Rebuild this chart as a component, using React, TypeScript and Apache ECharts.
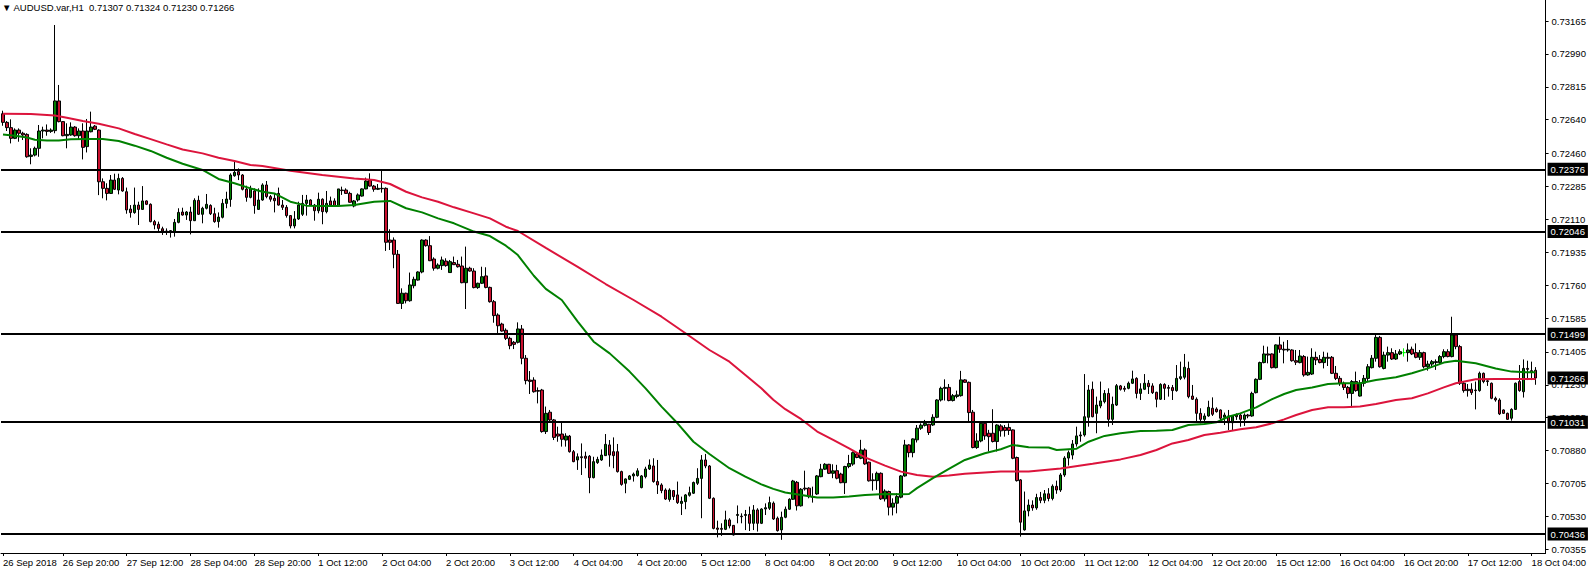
import React, { useEffect, useRef } from "react";
import * as echarts from "echarts";

const symbolName = "AUDUSD.var,H1";
const firstBarTime = "2018-09-26T05:00:00Z";

// H1 bars, [open, high, low, close] in units of 0.00001
const bars: number[][] = [
  [72672,72688,72608,72626],[72626,72633,72580,72598],[72598,72642,72514,72541],[72541,72594,72537,72585],
  [72585,72594,72523,72568],[72568,72576,72532,72559],[72562,72568,72438,72443],[72445,72488,72403,72452],
  [72452,72497,72445,72488],[72488,72612,72443,72580],[72580,72603,72541,72585],[72585,72615,72555,72578],
  [72578,72594,72570,72585],[72582,73144,72568,72740],[72740,72825,72626,72630],[72630,72633,72552,72555],
  [72555,72621,72488,72562],[72559,72626,72555,72601],[72601,72606,72550,72555],[72555,72594,72537,72580],
  [72580,72621,72429,72493],[72497,72644,72466,72580],[72576,72683,72573,72601],[72606,72612,72585,72589],
  [72585,72589,72239,72310],[72310,72328,72222,72275],[72275,72302,72211,72248],[72248,72346,72245,72319],
  [72319,72353,72266,72270],[72266,72353,72243,72328],[72328,72335,72257,72261],[72257,72279,72140,72160],
  [72165,72186,72119,72146],[72146,72279,72140,72186],[72186,72204,72080,72163],[72163,72287,72160,72208],
  [72208,72211,72186,72190],[72190,72195,72094,72098],[72098,72107,72057,72080],[72084,72098,72048,72062],
  [72060,72071,72027,72048],[72048,72062,72027,72044],[72044,72053,72013,72050],[72044,72112,72018,72094],
  [72094,72169,72089,72147],[72149,72172,72130,72133],[72133,72154,72107,72149],[72149,72177,72030,72103],
  [72103,72222,72101,72211],[72211,72236,72133,72137],[72137,72177,72089,72169],[72169,72245,72163,72190],
  [72184,72190,72133,72140],[72140,72172,72092,72098],[72098,72147,72066,72122],[72121,72218,72115,72195],
  [72195,72257,72169,72218],[72216,72355,72177,72346],[72342,72417,72337,72360],[72364,72381,72319,72346],
  [72346,72351,72264,72270],[72271,72289,72204,72227],[72227,72289,72222,72275],[72261,72275,72140,72183],
  [72163,72275,72160,72213],[72213,72302,72209,72293],[72293,72314,72222,72231],[72231,72240,72204,72217],
  [72222,72248,72147,72209],[72248,72279,72183,72186],[72186,72213,72160,72174],[72174,72186,72119,72130],
  [72130,72133,72062,72075],[72075,72154,72062,72112],[72112,72204,72107,72186],[72137,72240,72128,72195],
  [72195,72240,72130,72213],[72213,72217,72183,72186],[72186,72192,72103,72156],[72156,72252,72142,72217],
  [72217,72222,72084,72151],[72151,72261,72142,72195],[72208,72231,72181,72186],[72208,72222,72178,72181],
  [72181,72272,72178,72272],[72266,72284,72240,72263],[72266,72275,72245,72248],[72248,72257,72199,72201],
  [72181,72213,72174,72208],[72213,72248,72204,72240],[72234,72275,72231,72272],[72272,72332,72270,72314],
  [72319,72355,72284,72287],[72287,72293,72257,72270],[72270,72298,72266,72275],[72275,72369,72252,72273],
  [72275,72280,71942,71988],[72000,72057,71947,71988],[72000,72014,71850,71924],[71924,71947,71660,71663],
  [71663,71743,71633,71717],[71717,71720,71663,71677],[71677,71827,71672,71761],[71757,71805,71743,71791],
  [71787,71834,71784,71830],[71830,72004,71823,72000],[72000,72004,71965,71970],[71970,72021,71888,71890],
  [71899,71908,71837,71850],[71850,71876,71844,71867],[71864,71912,71841,71894],[71888,71903,71858,71864],
  [71827,71894,71827,71885],[71880,71912,71867,71869],[71871,71894,71853,71858],[71862,71912,71770,71773],
  [71773,71965,71633,71850],[71850,71858,71832,71835],[71835,71850,71743,71747],[71747,71773,71740,71770],
  [71770,71858,71766,71805],[71809,71855,71743,71748],[71748,71752,71667,71672],[71672,71681,71560,71598],
  [71601,71610,71504,71544],[71553,71560,71513,71516],[71520,71530,71468,71477],[71477,71486,71419,71438],
  [71456,71463,71420,71445],[71456,71562,71450,71527],[71527,71548,71339,71371],[71371,71388,71232,71252],
  [71255,71303,71181,71248],[71255,71270,71188,71193],[71199,71216,71131,71196],[71202,71208,70975,70981],
  [70981,71114,70968,71078],[71084,71096,71034,71043],[71043,71048,70936,70950],[70968,71007,70927,70957],
  [70968,71037,70901,70940],[70936,70972,70901,70957],[70957,70963,70869,70874],[70874,70883,70818,70821],
  [70830,70865,70777,70847],[70847,70918,70750,70842],[70850,70874,70786,70839],[70850,70856,70653,70736],
  [70736,70847,70732,70821],[70816,70847,70809,70833],[70830,70886,70825,70856],[70853,70968,70851,70913],
  [70910,70936,70794,70856],[70874,70950,70786,70853],[70874,70915,70763,70768],[70768,70773,70693,70700],
  [70706,70732,70653,70729],[70727,70750,70723,70745],[70745,70763,70715,70755],[70747,70786,70741,70772],
  [70683,70750,70679,70745],[70741,70794,70732,70782],[70782,70833,70777,70803],[70798,70839,70709,70715],
  [70715,70830,70649,70697],[70697,70706,70653,70667],[70670,70679,70617,70622],[70620,70679,70608,70670],
  [70667,70670,70617,70635],[70644,70715,70596,70603],[70599,70635,70537,70610],[70608,70649,70568,70644],
  [70642,70688,70635,70656],[70653,70715,70649,70710],[70706,70786,70697,70732],[70732,70856,70520,70830],
  [70830,70862,70786,70798],[70798,70803,70622,70626],[70626,70631,70461,70466],[70468,70507,70418,70461],
  [70466,70493,70426,70461],[70461,70560,70457,70511],[70511,70520,70466,70479],[70482,70484,70428,70431],
  [70535,70588,70493,70540],[70531,70546,70493,70528],[70535,70564,70457,70540],[70540,70582,70452,70493],
  [70493,70590,70457,70564],[70564,70573,70449,70493],[70493,70573,70489,70569],[70569,70599,70537,70576],
  [70573,70635,70564,70603],[70600,70609,70511,70516],[70520,70529,70449,70454],[70458,70555,70405,70525],
  [70525,70582,70520,70568],[70568,70626,70564,70621],[70621,70724,70617,70718],[70711,70718,70561,70586],
  [70586,70680,70582,70674],[70680,70773,70667,70676],[70680,70685,70626,70635],[70635,70688,70603,70632],
  [70649,70750,70644,70745],[70741,70809,70738,70781],[70781,70813,70777,70807],[70807,70809,70755,70759],
  [70759,70807,70733,70772],[70773,70804,70727,70733],[70755,70762,70706,70709],[70709,70799,70649,70795],
  [70795,70857,70786,70811],[70808,70875,70799,70869],[70862,70869,70839,70843],[70839,70937,70834,70883],
  [70883,70892,70804,70809],[70818,70821,70715,70719],[70724,70759,70667,70720],[70720,70768,70671,70759],
  [70759,70764,70617,70623],[70623,70674,70609,70664],[70662,70667,70535,70579],[70579,70626,70535,70600],
  [70600,70653,70546,70635],[70632,70750,70626,70745],[70745,70937,70741,70910],[70910,70914,70844,70869],
  [70869,70945,70844,70942],[70937,71016,70923,70999],[70999,71025,70990,71015],[71014,71043,71008,71025],
  [71020,71022,70963,70976],[71016,71073,71011,71057],[71057,71153,71052,71149],[71149,71220,71141,71211],
  [71211,71259,71146,71216],[71216,71234,71142,71146],[71146,71181,71141,71172],[71168,71199,71158,71176],
  [71172,71304,71167,71256],[71256,71260,71241,71243],[71243,71247,71034,71082],[71084,71096,70892,70896],
  [70896,70972,70889,70931],[70931,71034,70924,71025],[71025,71034,70937,70958],[70972,70990,70875,70954],
  [70972,71100,70923,70928],[70928,71020,70875,71016],[71011,71020,70954,70985],[71003,71016,70954,70987],
  [71003,71025,70963,70987],[70990,70993,70834,70839],[70843,70848,70715,70720],[70724,70728,70422,70499],
  [70458,70662,70454,70559],[70559,70620,70530,70590],[70590,70615,70560,70575],[70575,70650,70565,70630],
  [70630,70660,70600,70615],[70615,70670,70600,70650],[70650,70680,70610,70625],[70625,70700,70615,70690],
  [70690,70720,70650,70670],[70670,70760,70660,70750],[70750,70850,70740,70840],[70840,70880,70800,70869],
  [70856,70936,70833,70915],[70915,71007,70901,70958],[70958,70981,70927,70963],[70963,71287,70954,71060],
  [71057,71229,71007,71202],[71206,71247,71057,71060],[71078,71167,70972,71122],[71117,71247,71105,71144],
  [71140,71202,71131,71184],[71184,71211,71007,71046],[71046,71167,71016,71126],[71122,71234,71117,71225],
  [71224,71229,71199,71206],[71211,71224,71193,71206],[71211,71247,71206,71238],[71238,71305,71234,71261],
  [71264,71270,71158,71184],[71184,71238,71149,71208],[71206,71287,71202,71238],[71238,71255,71181,71220],
  [71224,71238,71181,71188],[71190,71193,71110,71153],[71153,71238,71149,71232],[71232,71238,71149,71211],
  [71216,71229,71167,71211],[71215,71229,71149,71199],[71199,71335,71193,71264],[71264,71353,71255,71273],
  [71270,71394,71259,71323],[71317,71353,71158,71167],[71170,71229,71149,71153],[71153,71163,71028,71078],
  [71078,71105,71025,71046],[71046,71078,71028,71064],[71064,71145,71060,71110],[71105,71163,71064,71073],
  [71101,71110,71082,71087],[71096,71099,71039,71052],[71057,71082,71016,71069],[71064,71096,70989,71028],
  [71028,71069,70989,71064],[71069,71078,71043,71060],[71069,71078,71007,71046],[71046,71078,71011,71069],
  [71069,71075,71052,71064],[71064,71193,71060,71184],[71188,71264,71184,71259],[71259,71353,71255,71348],
  [71348,71438,71344,71394],[71394,71433,71344,71388],[71394,71397,71317,71321],[71321,71445,71317,71442],
  [71442,71486,71400,71419],[71419,71459,71344,71415],[71415,71468,71406,71419],[71415,71419,71353,71358],
  [71358,71415,71335,71350],[71348,71415,71344,71383],[71380,71388,71273,71282],[71282,71380,71278,71296],
  [71287,71424,71282,71376],[71376,71406,71335,71362],[71365,71388,71344,71348],[71348,71406,71317,71376],
  [71376,71401,71330,71371],[71376,71383,71287,71291],[71291,71330,71255,71264],[71264,71277,71224,71238],
  [71238,71247,71202,71216],[71216,71224,71158,71184],[71184,71255,71110,71247],[71247,71300,71193,71199],
  [71170,71255,71167,71238],[71238,71282,71220,71264],[71264,71340,71247,71326],[71321,71388,71317,71371],
  [71371,71504,71353,71482],[71482,71490,71321,71326],[71317,71406,71312,71388],[71388,71433,71353,71401],
  [71401,71424,71362,71367],[71367,71415,71362,71394],[71394,71419,71388,71406],[71401,71424,71380,71401],
  [71401,71450,71353,71415],[71419,71433,71388,71394],[71401,71450,71371,71376],[71376,71415,71362,71401],
  [71401,71406,71317,71326],[71326,71358,71305,71340],[71340,71362,71326,71353],[71348,71365,71309,71353],
  [71348,71388,71335,71380],[71380,71419,71371,71406],[71406,71419,71376,71380],[71380,71592,71376,71495],
  [71495,71504,71419,71433],[71433,71442,71229,71238],[71238,71247,71188,71199],[71206,71234,71167,71199],
  [71206,71238,71176,71188],[71202,71247,71099,71199],[71199,71300,71193,71291],[71291,71295,71238,71247],
  [71251,71259,71224,71247],[71238,71242,71153,71158],[71158,71167,71140,71149],[71149,71158,71069,71075],
  [71096,71099,71075,71078],[71078,71082,71043,71046],[71052,71105,71039,71099],[71099,71242,71096,71238],
  [71247,71335,71193,71199],[71193,71365,71162,71317],[71317,71358,71255,71312],[71305,71353,71255,71295],
  [71307,71324,71230,71266],
];

// moving averages, [bar index, value in 0.00001]
const maGreen: number[][] = [
  [0,72562],[3,72555],[6,72545],[8,72534],[11,72529],[14,72529],[17,72536],[21,72537],[25,72537],[29,72527],
  [33,72502],[37,72474],[41,72438],[45,72406],[50,72373],[54,72325],[58,72302],[62,72275],[65,72257],[68,72248],
  [72,72204],[76,72183],[80,72181],[84,72181],[88,72186],[93,72204],[97,72208],[101,72169],[105,72147],[109,72115],
  [113,72089],[118,72045],[122,72021],[126,71970],[129,71920],[133,71810],[136,71740],[140,71681],[144,71566],
  [148,71459],[152,71397],[157,71300],[161,71211],[165,71114],[169,71025],[173,70927],[177,70862],[182,70786],
  [186,70741],[190,70700],[193,70676],[196,70657],[200,70644],[204,70630],[208,70630],[212,70635],[216,70644],
  [221,70649],[225,70648],[227,70649],[229,70680],[233,70733],[237,70782],[241,70830],[246,70866],[250,70887],
  [253,70910],[257,70898],[262,70896],[264,70883],[269,70890],[272,70927],[276,70958],[280,70972],[285,70984],
  [289,70986],[293,70989],[297,71016],[301,71021],[304,71030],[307,71060],[310,71078],[314,71110],[318,71154],
  [321,71181],[324,71202],[328,71216],[332,71234],[336,71238],[340,71238],[344,71255],[349,71270],[353,71291],
  [357,71317],[361,71348],[364,71358],[369,71344],[374,71317],[378,71300],[382,71296],[384,71296],
];
const maRed: number[][] = [
  [0,72672],[7,72670],[13,72662],[16,72651],[20,72633],[24,72619],[29,72594],[33,72564],[37,72537],[41,72509],
  [45,72482],[50,72461],[54,72438],[58,72420],[62,72399],[65,72394],[72,72369],[80,72346],[88,72328],[93,72319],
  [97,72298],[101,72257],[105,72227],[109,72204],[113,72174],[118,72142],[122,72115],[126,72071],[129,72048],
  [136,71958],[144,71857],[151,71766],[158,71681],[165,71592],[171,71504],[177,71415],[182,71353],[186,71282],
  [190,71211],[193,71150],[196,71100],[200,71047],[204,70981],[208,70937],[212,70892],[216,70844],[221,70800],
  [225,70768],[229,70750],[233,70741],[237,70747],[241,70756],[246,70763],[250,70768],[257,70768],[265,70785],
  [273,70810],[280,70833],[285,70856],[289,70883],[293,70918],[297,70936],[301,70963],[305,70975],[310,70993],
  [314,71004],[318,71025],[321,71046],[324,71069],[328,71096],[332,71110],[336,71110],[340,71114],[344,71128],
  [349,71149],[353,71158],[357,71184],[361,71216],[364,71238],[369,71259],[374,71261],[378,71261],[384,71261],
];

const levels = [0.72376, 0.72046, 0.71499, 0.71031, 0.70436];
const yTicks = [
  0.73165, 0.7299, 0.72815, 0.7264, 0.7246, 0.72285, 0.7211, 0.71935, 0.7176,
  0.71585, 0.71405, 0.7123, 0.71055, 0.7088, 0.70705, 0.7053, 0.70355,
];
const xTickLabels = [
  "26 Sep 2018", "26 Sep 20:00", "27 Sep 12:00", "28 Sep 04:00", "28 Sep 20:00", "1 Oct 12:00",
  "2 Oct 04:00", "2 Oct 20:00", "3 Oct 12:00", "4 Oct 04:00", "4 Oct 20:00", "5 Oct 12:00",
  "8 Oct 04:00", "8 Oct 20:00", "9 Oct 12:00", "10 Oct 04:00", "10 Oct 20:00", "11 Oct 12:00",
  "12 Oct 04:00", "12 Oct 20:00", "15 Oct 12:00", "16 Oct 04:00", "16 Oct 20:00", "17 Oct 12:00",
  "18 Oct 04:00",
];
const yMin = 0.70335;
const yMax = 0.73277;
const emptySlots = 2;

const MONTHS = ["Jan","Feb","Mar","Apr","May","Jun","Jul","Aug","Sep","Oct","Nov","Dec"];
const pad2 = (n: number) => (n < 10 ? "0" + n : "" + n);

function buildCategories(n: number): string[] {
  const out: string[] = [];
  let t = Date.parse(firstBarTime);
  while (out.length < n) {
    const d = new Date(t);
    const wd = d.getUTCDay();
    if (wd !== 0 && wd !== 6) {
      out.push(`${d.getUTCDate()} ${MONTHS[d.getUTCMonth()]} ${pad2(d.getUTCHours())}:00`);
    }
    t += 3600000;
  }
  return out;
}

const FONT = "Liberation Sans";
const UP = "#008000";
const DOWN = "#C8102E";
const DOJI = "#00FF00";
const fmt = (v: number) => v.toFixed(5);

export default function App() {
  const ref = useRef<HTMLDivElement>(null);
  useEffect(() => {
    document.body.style.margin = "0";
    const el = ref.current!;
    const chart = echarts.init(el, null, { renderer: "svg" });

    const cats = buildCategories(bars.length).concat(Array(emptySlots).fill(""));
    const tickSet = new Set(xTickLabels);
    const showTick = (i: number, v: string) => i === 0 || tickSet.has(v);

    const candleData = bars.map(([o, h, l, c]) => {
      const v = [o / 1e5, c / 1e5, l / 1e5, h / 1e5];
      if (o === c) {
        return {
          value: v,
          itemStyle: { color: DOJI, color0: DOJI, borderColor: DOJI, borderColor0: DOJI, borderColorDoji: DOJI },
        };
      }
      return v;
    });
    const last = bars[bars.length - 1];
    const lastClose = last[3] / 1e5;

    const markLabel = {
      show: true,
      position: "end",
      distance: 2,
      formatter: (p: any) => fmt(p.value),
      backgroundColor: "#000",
      color: "#fff",
      fontSize: 9.5,
      fontFamily: FONT,
      padding: [2, 3, 1, 3],
    };

    chart.setOption({
      animation: false,
      backgroundColor: "#fff",
      title: {
        text: `▼ ${symbolName}  ${fmt(last[0] / 1e5)} ${fmt(last[1] / 1e5)} ${fmt(last[2] / 1e5)} ${fmt(last[3] / 1e5)}`,
        left: 2,
        top: 2,
        padding: 0,
        textStyle: { fontSize: 9.5, fontWeight: "normal", fontFamily: FONT, color: "#000" },
      },
      grid: { left: 0, top: 0, width: 1548, height: 553, containLabel: false },
      xAxis: {
        type: "category",
        data: cats,
        boundaryGap: true,
        axisLine: { show: true, lineStyle: { color: "#000", width: 1 } },
        axisTick: { show: true, alignWithLabel: true, length: 3, interval: showTick, lineStyle: { color: "#000" } },
        axisLabel: {
          interval: showTick,
          formatter: (v: string, i: number) => (i === 0 ? xTickLabels[0] : v),
          align: "left",
          color: "#000",
          fontSize: 9.5,
          fontFamily: FONT,
          margin: 4,
        },
        splitLine: { show: false },
      },
      yAxis: {
        type: "value",
        position: "right",
        min: yMin,
        max: yMax,
        axisLine: { show: true, lineStyle: { color: "#000", width: 1 } },
        axisTick: { show: true, length: 3, customValues: yTicks, lineStyle: { color: "#000" } },
        axisLabel: {
          customValues: yTicks,
          formatter: (v: number) => fmt(v),
          color: "#000",
          fontSize: 9.5,
          fontFamily: FONT,
          margin: 6,
        },
        splitLine: { show: false },
      },
      series: [
        {
          type: "candlestick",
          data: candleData,
          barWidth: 3,
          itemStyle: {
            color: UP,
            color0: DOWN,
            borderColor: "#000",
            borderColor0: "#000",
            borderColorDoji: DOJI,
            borderWidth: 1,
          },
          markLine: {
            silent: true,
            symbol: ["none", "none"],
            precision: 5,
            animation: false,
            label: markLabel,
            lineStyle: { color: "#000", width: 2, type: "solid" },
            data: [
              ...levels.map((v) => ({ yAxis: v })),
              { yAxis: lastClose, lineStyle: { color: "rgba(0,0,0,0)", width: 0 } },
            ],
          },
          z: 2,
        },
        {
          type: "line",
          data: maRed.map(([i, v]) => [i, v / 1e5]),
          showSymbol: false,
          lineStyle: { color: "#DC143C", width: 2 },
          itemStyle: { color: "#DC143C" },
          z: 3,
        },
        {
          type: "line",
          data: maGreen.map(([i, v]) => [i, v / 1e5]),
          showSymbol: false,
          lineStyle: { color: "#008000", width: 2 },
          itemStyle: { color: "#008000" },
          z: 3,
        },
      ],
    });
    return () => chart.dispose();
  }, []);
  return <div ref={ref} style={{ width: 1589, height: 570, background: "#fff" }} />;
}
